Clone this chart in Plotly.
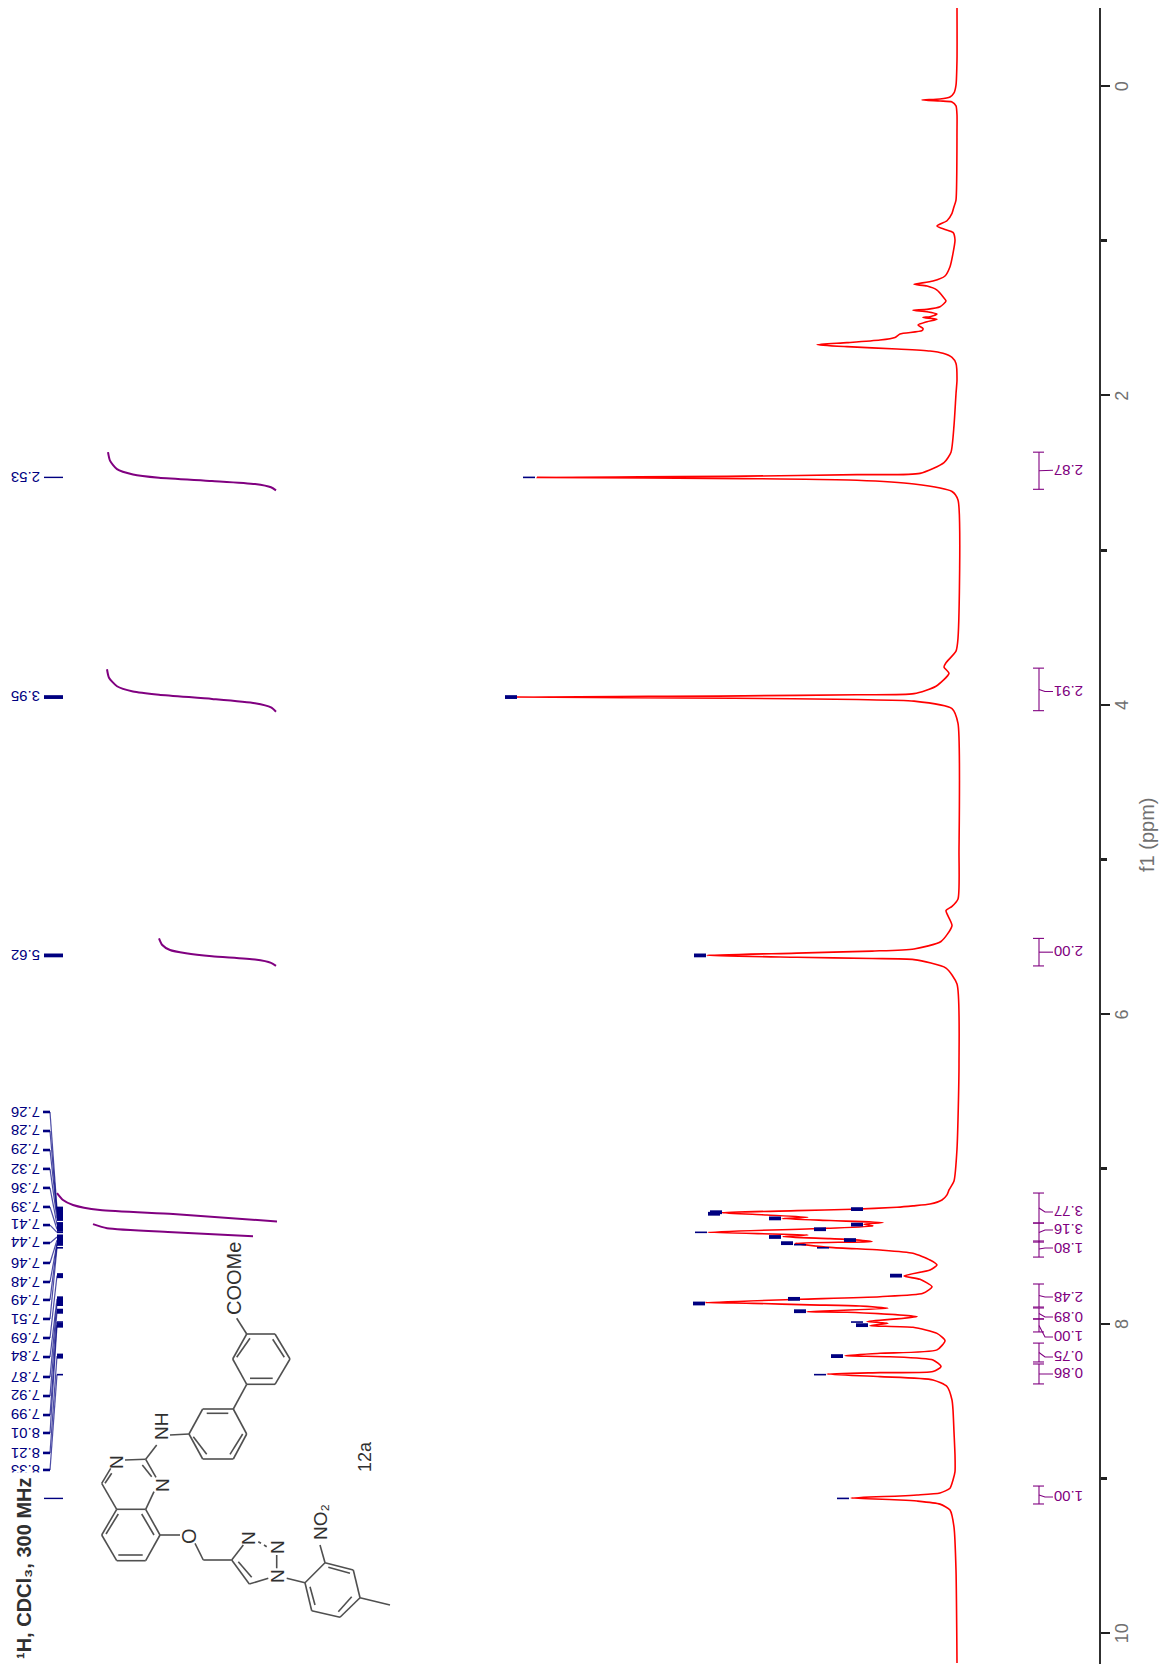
import plotly.graph_objects as go

# ---------- spectrum (chemical shift in ppm, intensity in arbitrary units) ----------
spectrum_ppm = [
    -0.504, -0.168, -0.006, 0.045, 0.071, 0.084, 0.090, 0.097, 0.103, 0.129, 0.187, 0.284,
    0.737, 0.780, 0.823, 0.871, 0.905, 0.927, 0.946, 0.996, 1.082, 1.168, 1.228, 1.261, 1.282,
    1.293, 1.319, 1.362, 1.390, 1.427, 1.444, 1.450, 1.459, 1.474, 1.491, 1.496, 1.508, 1.524,
    1.545, 1.567, 1.582, 1.603, 1.625, 1.642, 1.659, 1.672, 1.685, 1.700, 1.713, 1.728, 1.754,
    1.793, 1.901, 1.989, 2.195, 2.367, 2.435, 2.504, 2.512, 2.522, 2.530, 2.538, 2.548, 2.573, 2.621, 2.676,
    3.570, 3.653, 3.728, 3.756, 3.797, 3.880, 3.928, 3.935, 3.942, 3.950, 3.958, 3.966, 3.976, 4.024, 4.120,
    4.946, 5.255, 5.303, 5.330, 5.427, 5.530, 5.578, 5.592, 5.605, 5.620, 5.632, 5.640, 5.647, 5.702, 5.805,
    6.321, 6.871, 7.078, 7.136, 7.168, 7.201, 7.227, 7.239, 7.248, 7.261, 7.270, 7.283, 7.298,
    7.313, 7.321, 7.334, 7.347, 7.358, 7.369, 7.384, 7.410, 7.427, 7.438, 7.451, 7.459, 7.470,
    7.481, 7.507, 7.524, 7.545, 7.589, 7.621, 7.653, 7.692, 7.714, 7.761, 7.804, 7.826, 7.843,
    7.864, 7.869, 7.879, 7.886, 7.901, 7.923, 7.927, 7.955, 7.987, 7.998, 8.013, 8.024, 8.063,
    8.110, 8.170, 8.192, 8.207, 8.214, 8.235, 8.278, 8.310, 8.317, 8.326, 8.343, 8.364, 8.407,
    8.494, 8.558, 8.700, 8.850, 8.957, 9.011, 9.064, 9.095, 9.108, 9.114, 9.127, 9.140, 9.147,
    9.167, 9.205, 9.315, 9.593, 10.194,
]
spectrum_intensity = [
    0, 0, 1, 3, 7, 17, 35, 17, 5, 1, 0, 0,
    1, 3, 5, 10, 20, 12, 4, 2, 4, 7, 12, 24, 43,
    30, 20, 14, 11, 17, 30, 44, 30, 20, 27, 34, 20, 30,
    39, 34, 35, 57, 62, 77, 110, 140, 110, 60, 27, 14, 5,
    1, 0, 1, 3, 6, 13, 37, 100, 213, 420, 213, 100, 43, 5, -1,
    -1, 1, 11, 13, 8, 21, 43, 100, 213, 441, 223, 100, 43, 5, -1,
    -2, -1, 5, 11, 5, 16, 43, 85, 160, 250, 160, 85, 43, 11, 0,
    -2, 0, 3, 8, 10, 15, 27, 44, 60, 104, 160, 235, 190,
    149, 175, 127, 74, 93, 84, 130, 249, 149, 174, 127, 102, 85,
    162, 127, 77, 44, 27, 20, 27, 53, 37, 25, 34, 77, 157,
    252, 204, 147, 97, 69, 150, 110, 40, 90, 69, 87, 44, 20,
    12, 20, 77, 112, 67, 24, 16, 24, 77, 130, 77, 24, 10,
    5, 4, 3, 2, 2, 4, 7, 17, 40, 57, 106, 57, 40,
    17, 7, 3, 1, 0,
]

# ---------- picked peaks ----------
peak_labels = ["2.53", "3.95", "5.62", "7.26", "7.28", "7.29", "7.32", "7.36", "7.39", "7.41",
               "7.44", "7.46", "7.48", "7.49", "7.51", "7.69", "7.84", "7.87", "7.92", "7.99",
               "8.01", "8.21", "8.33", "9.13"]
peak_ppm = [2.53, 3.95, 5.62, 7.26, 7.28, 7.29, 7.32, 7.36, 7.39, 7.41,
            7.44, 7.46, 7.48, 7.49, 7.51, 7.69, 7.84, 7.87, 7.92, 7.99,
            8.01, 8.21, 8.33, 9.13]
peak_height = [422, 440, 251, 94, 235, 237, 176, 94, 131, 250,
               176, 101, 164, 151, 128, 55, 157, 252, 151, 94,
               89, 114, 131, 108]
peak_strong = [0, 1, 1, 1, 1, 1, 1, 1, 1, 0, 1, 1, 1, 0, 0, 1, 1, 1, 1, 0, 1, 1, 0, 0]
peak_label_ppm = [2.53, 3.95, 5.62, 6.632, 6.755, 6.878, 7.000, 7.123, 7.246, 7.363,
                  7.479, 7.608, 7.731, 7.847, 7.970, 8.093, 8.216, 8.345, 8.468, 8.591,
                  8.707, 8.836, 8.946, 9.13]

# ---------- integrals ----------
integral_labels = ["2.87", "2.91", "2.00", "3.77", "3.16", "1.80", "2.48", "0.89", "1.00", "0.75", "0.86", "1.00"]
integral_start = [2.367, 3.763, 5.510, 7.156, 7.350, 7.466, 7.744, 7.899, 7.970, 8.126, 8.261, 9.050]
integral_end = [2.607, 4.038, 5.688, 7.350, 7.473, 7.570, 7.893, 7.970, 8.054, 8.248, 8.390, 9.166]
integral_label_ppm = [2.484, 3.914, 5.599, 7.279, 7.395, 7.511, 7.828, 7.957, 8.087, 8.216, 8.326, 9.121]

curve_a_ppm = [2.367, 2.422, 2.477, 2.511, 2.532, 2.553, 2.573, 2.594, 2.614]
curve_a_val = [849, 847, 840, 824, 798, 745, 702, 686, 681]
curve_b_ppm = [3.770, 3.825, 3.880, 3.914, 3.935, 3.962, 3.990, 4.017, 4.045]
curve_b_val = [850, 848, 840, 824, 798, 745, 702, 686, 681]
curve_c_ppm = [5.510, 5.551, 5.585, 5.606, 5.626, 5.647, 5.668, 5.688]
curve_c_val = [798, 795, 787, 771, 745, 702, 686, 681]
curve_d_ppm = [7.156, 7.201, 7.233, 7.266, 7.292, 7.340]
curve_d_val = [900, 894, 884, 857, 784, 680]
curve_e_ppm = [7.357, 7.383, 7.409, 7.435]
curve_e_val = [864, 850, 784, 704]

tick_major = [0, 2, 4, 6, 8, 10]
tick_minor = [1, 3, 5, 7, 9]
tick_text = ["0", "2", "4", "6", "8", "10"]

# ---------- structure drawing, in page pixels ----------
ring_a = [(246.7, 1334), (275, 1334), (290, 1359), (275, 1384.3), (246.7, 1384.3), (232.7, 1359)]
ring_b = [(233.3, 1409), (202.7, 1409), (189, 1434), (202.7, 1459), (233.3, 1459), (246.7, 1434)]
ring_c = [(116.7, 1509.3), (145.7, 1509.3), (160, 1535), (145.7, 1560.7), (116.7, 1560.7), (101.7, 1535)]
ring_d = [(305, 1582.7), (325, 1562.7), (353.3, 1570), (360, 1597.7), (340, 1617.3), (311.7, 1610.7)]
bonds = [
    (250, 1338.3, 236.7, 1357.3), (272.7, 1339.3, 284.3, 1357.3), (250, 1378.3, 272.7, 1378.3),
    (246.7, 1334, 236.7, 1318.3), (246.7, 1384.3, 233.3, 1409),
    (206.7, 1413.3, 228.3, 1413.3), (193.3, 1436.7, 206.7, 1454.3), (230, 1454.3, 242.7, 1434),
    (189, 1434, 170, 1435), (156.7, 1445, 145.7, 1459.3), (125, 1460, 145.7, 1459.3),
    (145.7, 1459.3, 156, 1477.3), (142.3, 1465, 151.7, 1476.7), (110.7, 1468.3, 101.7, 1483.3),
    (111.7, 1473.3, 105, 1483.3), (101.7, 1483.3, 116.7, 1509.3), (154, 1491.7, 145.7, 1509.3),
    (118.3, 1514, 106, 1534), (141.7, 1514, 154, 1535), (118.3, 1555, 142.7, 1555),
    (160, 1535, 180, 1535), (195, 1543.3, 203.3, 1560), (203.3, 1560, 231.7, 1560),
    (231.7, 1560, 243.3, 1545), (231.7, 1560, 249.3, 1584), (238.3, 1561.7, 251.7, 1577.3),
    (249.3, 1584, 268.3, 1578.3), (276.7, 1568.3, 276.7, 1555),
    (258.3, 1541.7, 261, 1543.3), (264, 1545, 266.7, 1546.7),
    (286.7, 1578.3, 305, 1582.7), (328.3, 1567.3, 350, 1573.3), (351.7, 1596.7, 338.3, 1611.7),
    (315, 1605, 310, 1586.7), (360, 1597.7, 390, 1605), (325, 1562.7, 320, 1545),
]
atom_labels = [("COOMe", 234, 1279, 20), ("NH", 161, 1427, 19), ("N", 116, 1462, 19), ("N", 162, 1485, 19),
               ("O", 189, 1536, 20), ("N", 248, 1538, 19), ("N", 277, 1547, 19), ("N", 277, 1576, 19),
               ("NO₂", 320, 1522, 19), ("12a", 365, 1457, 18)]

# ---------- page layout helpers ----------
W, H = 1166, 1668
X_ZERO = 957            # page x of the spectrum baseline
NAVY, PURPLE, RED = "#000080", "#800080", "#ff0000"
INK = "#505050"
FONT = "Liberation Sans"


def seg_trace(xs, ys, color, width, xaxis="x", yaxis="y", smooth=False):
    line = dict(color=color, width=width)
    if smooth:
        line.update(shape="spline", smoothing=0.6)
    return go.Scatter(x=xs, y=ys, mode="lines", line=line,
                      hoverinfo="skip", showlegend=False, xaxis=xaxis, yaxis=yaxis)


def to_int(px):
    return X_ZERO - px


fig = go.Figure()

# integral curves
for px, py in [(curve_a_val, curve_a_ppm), (curve_b_val, curve_b_ppm), (curve_c_val, curve_c_ppm),
               (curve_d_val, curve_d_ppm), (curve_e_val, curve_e_ppm)]:
    fig.add_trace(seg_trace(px, py, PURPLE, 2, smooth=True))

# spectrum
fig.add_trace(seg_trace(spectrum_intensity, spectrum_ppm, RED, 1.6, smooth=True))

# picked-peak marks on the spectrum and in the label column
thin_x, thin_y, thick_x, thick_y, col_x, col_y = [], [], [], [], [], []
tick_x, tick_y, fan_x, fan_y, thintick_x, thintick_y = [], [], [], [], [], []
for lab_y, p, h, strong in zip(peak_label_ppm, peak_ppm, peak_height, peak_strong):
    tx, ty = (thick_x, thick_y) if strong else (thin_x, thin_y)
    tx += [h, h + 12, None]
    ty += [p, p, None]
    if abs(lab_y - p) < 1e-6:
        (thick_x if strong else thintick_x).extend([to_int(44), to_int(63), None])
        (thick_y if strong else thintick_y).extend([p, p, None])
    else:
        (col_x if strong else thin_x).extend([to_int(57), to_int(63), None])
        (col_y if strong else thin_y).extend([p, p, None])
        tick_x += [to_int(43), to_int(50), None]
        tick_y += [lab_y, lab_y, None]
        fan_x += [to_int(50), to_int(57), None]
        fan_y += [lab_y, p, None]
fig.add_trace(seg_trace(fan_x, fan_y, "rgba(0,0,128,0.7)", 1.2))
fig.add_trace(seg_trace(tick_x, tick_y, NAVY, 2.6))
fig.add_trace(seg_trace(thintick_x, thintick_y, NAVY, 1.4))
fig.add_trace(seg_trace(thin_x, thin_y, NAVY, 1.6))
fig.add_trace(seg_trace(thick_x, thick_y, NAVY, 3.8))
fig.add_trace(seg_trace(col_x, col_y, NAVY, 5))

# integral bars
bar_x, bar_y, link_x, link_y = [], [], [], []
for s, e, lab in zip(integral_start, integral_end, integral_label_ppm):
    bar_x += [to_int(1039), to_int(1039), None, to_int(1033), to_int(1044), None, to_int(1033), to_int(1044), None]
    bar_y += [s, e, None, s, s, None, e, e, None]
    m = (s + e) / 2
    link_x += [to_int(1039), to_int(1045), to_int(1053), None]
    link_y += [m, lab, lab, None]
fig.add_trace(seg_trace(bar_x, bar_y, PURPLE, 1.1))
fig.add_trace(seg_trace(link_x, link_y, PURPLE, 1.1))

# structure, in its own pixel-scaled invisible axes
mx, my = [], []
for ring in (ring_a, ring_b, ring_c, ring_d):
    for i in range(6):
        a, b = ring[i], ring[(i + 1) % 6]
        mx += [a[0], b[0], None]
        my += [a[1], b[1], None]
for x1, y1, x2, y2 in bonds:
    mx += [x1, x2, None]
    my += [y1, y2, None]
fig.add_trace(seg_trace(mx, my, INK, 1.6, "x2", "y2"))

annotations = []
for text, lab in zip(peak_labels, peak_label_ppm):
    annotations.append(dict(x=to_int(25.5), y=lab, xref="x", yref="y", text=text, showarrow=False, textangle=180,
                            font=dict(family=FONT, size=15, color=NAVY), xanchor="center", yanchor="middle"))
for text, lab in zip(integral_labels, integral_label_ppm):
    annotations.append(dict(x=to_int(1069), y=lab, xref="x", yref="y", text=text, showarrow=False, textangle=180,
                            font=dict(family=FONT, size=15, color=PURPLE), xanchor="center", yanchor="middle"))
# white block of the pasted structure image, hiding the last labels
annotations.append(dict(x=0, y=1472, xref="x2", yref="y2", text=" ", showarrow=False, bgcolor="white",
                        width=39, height=196, xanchor="left", yanchor="top", borderpad=0,
                        font=dict(size=10)))
annotations.append(dict(x=24, y=1568, xref="x2", yref="y2", showarrow=False, textangle=-90,
                        text="¹H, CDCl₃, 300 MHz",
                        font=dict(family=FONT, size=20, color="#303030", weight=700),
                        xanchor="center", yanchor="middle"))
for text, x, y, size in atom_labels:
    annotations.append(dict(x=x, y=y, xref="x2", yref="y2", text=text, showarrow=False, textangle=-90,
                            font=dict(family=FONT, size=size, color="#303030"), xanchor="center", yanchor="middle"))
annotations.append(dict(x=1147, y=835, xref="x2", yref="y2", text="f1 (ppm)", showarrow=False, textangle=-90,
                        font=dict(family=FONT, size=20, color="#707070"), xanchor="center", yanchor="middle"))

fig.update_layout(
    width=W, height=H, margin=dict(l=0, r=0, t=0, b=0), autosize=False,
    paper_bgcolor="white", plot_bgcolor="rgba(0,0,0,0)", showlegend=False,
    annotations=annotations,
    xaxis=dict(domain=[0, 1], range=[X_ZERO, X_ZERO - W], visible=False, anchor="y"),
    yaxis=dict(domain=[(H - 1664) / H, (H - 8) / H], range=[(1664 - 86) / 154.7, (8 - 86) / 154.7],
               anchor="free", position=1100 / W, side="right", showgrid=False, zeroline=False,
               showline=True, linecolor="#303030", linewidth=2,
               ticks="outside", ticklen=9, tickwidth=1.5, tickcolor="#202020",
               tickvals=tick_major, ticktext=tick_text, tickangle=-90, ticklabelstandoff=-4, ticklabelshift=-3,
               tickfont=dict(family=FONT, size=18, color="#707070"),
               minor=dict(tickvals=tick_minor, ticks="outside", ticklen=6, tickwidth=3, tickcolor="#202020")),
    xaxis2=dict(domain=[0, 1], range=[0, W], visible=False, anchor="y2"),
    yaxis2=dict(domain=[0, 1], range=[H, 0], visible=False, anchor="x2"),
)

fig.write_html("out.html", config=dict(displayModeBar=False, responsive=False),
               post_script="document.documentElement.style.overflow='hidden';document.body.style.margin='0';document.body.style.overflow='hidden';")
